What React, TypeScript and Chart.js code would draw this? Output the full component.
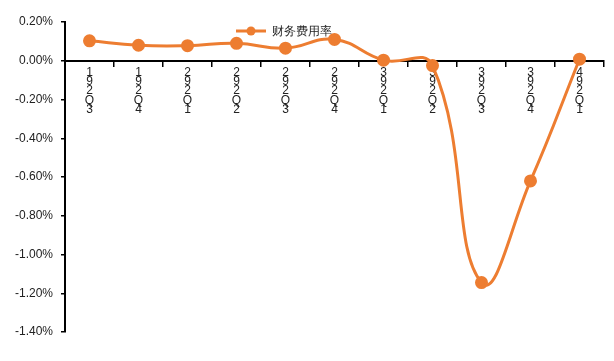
import React, { useEffect, useRef } from "react";
import { Chart, registerables } from "chart.js";

Chart.register(...registerables);

const categories = ["19Q3", "19Q4", "20Q1", "20Q2", "20Q3", "20Q4", "21Q1", "21Q2", "21Q3", "21Q4", "22Q1"];
const tickRows = [
  ["1", "9", "2", "Q", "3"],
  ["1", "9", "2", "Q", "4"],
  ["2", "9", "2", "Q", "1"],
  ["2", "9", "2", "Q", "2"],
  ["2", "9", "2", "Q", "3"],
  ["2", "9", "2", "Q", "4"],
  ["3", "9", "2", "Q", "1"],
  ["3", "9", "2", "Q", "2"],
  ["3", "9", "2", "Q", "3"],
  ["3", "9", "2", "Q", "4"],
  ["4", "9", "2", "Q", "1"],
];
const seriesName = "财务费用率";
const values = [0.103, 0.08, 0.078, 0.09, 0.065, 0.11, 0.003, -0.025, -1.145, -0.62, 0.008];
const yTicks = [0.2, 0, -0.2, -0.4, -0.6, -0.8, -1.0, -1.2, -1.4];

const ORANGE = "#ED7D31";
const FONT = "'Liberation Sans', Arial, sans-serif";

const legendPlugin = {
  id: "customLegend",
  afterDraw(chart: any) {
    const ctx = chart.ctx;
    const cx = 251;
    const cy = 31;
    ctx.save();
    ctx.strokeStyle = ORANGE;
    ctx.lineWidth = 3;
    ctx.beginPath();
    ctx.moveTo(cx - 15, cy);
    ctx.lineTo(cx + 15, cy);
    ctx.stroke();
    ctx.fillStyle = ORANGE;
    ctx.beginPath();
    ctx.arc(cx, cy, 4.5, 0, Math.PI * 2);
    ctx.fill();
    ctx.fillStyle = "#222";
    ctx.font = "12px " + FONT;
    ctx.textBaseline = "middle";
    ctx.textAlign = "left";
    ctx.fillText(seriesName, cx + 21, cy + 1);
    ctx.restore();
  },
};

export default function App() {
  const ref = useRef<HTMLCanvasElement>(null);
  useEffect(() => {
    document.body.style.margin = "0";
    const chart = new Chart(ref.current!, {
      type: "line",
      data: {
        labels: categories,
        datasets: [
          {
            label: seriesName,
            data: values,
            borderColor: ORANGE,
            backgroundColor: ORANGE,
            borderWidth: 3,
            pointRadius: 5,
            pointBackgroundColor: ORANGE,
            pointBorderColor: ORANGE,
            tension: 0.45,
          },
        ],
      },
      options: {
        animation: false,
        responsive: false,
        maintainAspectRatio: false,
        layout: { padding: { left: 0, right: 10, top: 22, bottom: 29 } },
        plugins: { legend: { display: false }, tooltip: { enabled: false } },
        scales: {
          x: {
            type: "category",
            position: { y: 0 } as any,
            offset: true,
            grid: { display: true, drawOnChartArea: false, offset: true, color: "#000", tickLength: 5, lineWidth: 1.5 },
            border: { display: true, color: "#000", width: 2 },
            ticks: {
              autoSkip: false,
              maxRotation: 0,
              minRotation: 0,
              padding: 2,
              color: "#222",
              font: { family: FONT, size: 12, lineHeight: 0.78 },
              callback: (_v: any, i: number) => tickRows[i],
            },
            afterFit: (s: any) => {
              s.height = 0;
            },
          },
          y: {
            min: -1.4,
            max: 0.2,
            afterBuildTicks: (s: any) => {
              s.ticks = yTicks.map((v) => ({ value: v }));
            },
            afterFit: (s: any) => {
              s.width = 65;
            },
            grid: { display: true, drawOnChartArea: false, color: "#000", tickLength: 4, lineWidth: 1.5 },
            border: { display: true, color: "#000", width: 2 },
            ticks: {
              color: "#222",
              padding: 8,
              font: { family: FONT, size: 12 },
              callback: (v: any) => Number(v).toFixed(2) + "%",
            },
          },
        },
      },
      plugins: [legendPlugin],
    });
    return () => chart.destroy();
  }, []);
  return (
    <div style={{ width: 614, height: 361, background: "#fff" }}>
      <canvas ref={ref} width={614} height={361} style={{ display: "block" }} />
    </div>
  );
}
